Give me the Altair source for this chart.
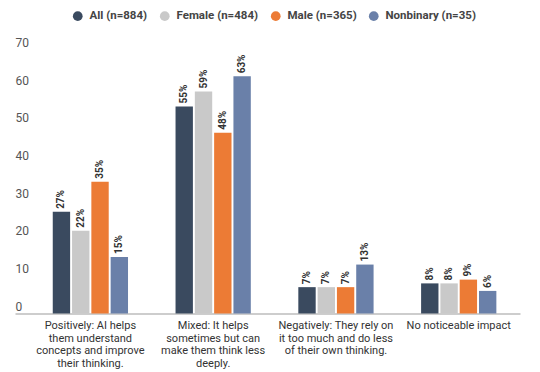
import altair as alt
import pandas as pd

categories = [
    "Positively: AI helps\nthem understand\nconcepts and improve\ntheir thinking.",
    "Mixed: It helps\nsometimes but can\nmake them think less\ndeeply.",
    "Negatively: They rely on\nit too much and do less\nof their own thinking.",
    "No noticeable impact",
]
groups = ["All (n=884)", "Female (n=484)", "Male (n=365)", "Nonbinary (n=35)"]
colors = ["#3a4a5f", "#c9c9c9", "#ec7b35", "#6a80a9"]

all_vals = [27, 55, 7, 8]
female_vals = [22, 59, 7, 8]
male_vals = [35, 48, 7, 9]
nonbinary_vals = [15, 63, 13, 6]
y_ticks = [0, 10, 20, 30, 40, 50, 60, 70]

series = [all_vals, female_vals, male_vals, nonbinary_vals]
rows = []
for g, vals in zip(groups, series):
    for c, v in zip(categories, vals):
        rows.append({"category": c, "group": g, "value": v, "label": f"{v}%"})
df = pd.DataFrame(rows)

x_enc = alt.X(
    "category:N",
    sort=categories,
    scale=alt.Scale(paddingInner=0.387, paddingOuter=0.25, align=0.615),
    axis=alt.Axis(
        title=None,
        labelAngle=0,
        labelFontSize=11,
        labelColor="#333333",
        labelLineHeight=12.7,
        labelPadding=6,
        labelExpr="split(datum.label, '\\n')",
        ticks=False,
        domainColor="#bdbdbd",
        domainWidth=1.5,
    ),
)
xoff_enc = alt.XOffset(
    "group:N", sort=groups, scale=alt.Scale(paddingInner=0.1, paddingOuter=0)
)
y_enc = alt.Y(
    "value:Q",
    scale=alt.Scale(domain=[0, 70], nice=False),
    axis=alt.Axis(
        title=None,
        values=y_ticks,
        grid=False,
        domain=False,
        ticks=False,
        tickSize=0,
        labelAlign="left",
        labelPadding=0,
        labelOffset=-7.5,
        labelOverlap=False,
        labelFlush=False,
        labelBound=False,
        labelFontSize=12,
        labelColor="#555555",
    ),
)

bars = alt.Chart(df).mark_bar().encode(
    x=x_enc,
    xOffset=xoff_enc,
    y=y_enc,
    color=alt.Color(
        "group:N",
        sort=groups,
        scale=alt.Scale(domain=groups, range=colors),
        legend=alt.Legend(
            title=None,
            orient="none",
            legendX=57,
            legendY=-40,
            direction="horizontal",
            symbolType="circle",
            symbolSize=95,
            symbolStrokeWidth=0,
            labelFontSize=11.5,
            labelFontWeight="bold",
            labelColor="#444444",
            labelOffset=6,
            columnPadding=11,
        ),
    ),
)

texts = alt.Chart(df).mark_text(
    angle=270,
    align="left",
    baseline="middle",
    dx=3,
    fontSize=10,
    fontWeight="bold",
    color="#333333",
).encode(
    x=x_enc,
    xOffset=xoff_enc,
    y=y_enc,
    text="label:N",
)

chart = (
    alt.layer(bars, texts)
    .properties(
        width=505,
        height=263.5,
        autosize=alt.AutoSizeParams(type="none"),
        padding={"left": 7, "top": 42, "right": 12, "bottom": 60},
    )
    .configure(font="Roboto")
    .configure_view(stroke=None)
)

chart.save("out.html", embed_options={"renderer": "svg", "actions": False})
